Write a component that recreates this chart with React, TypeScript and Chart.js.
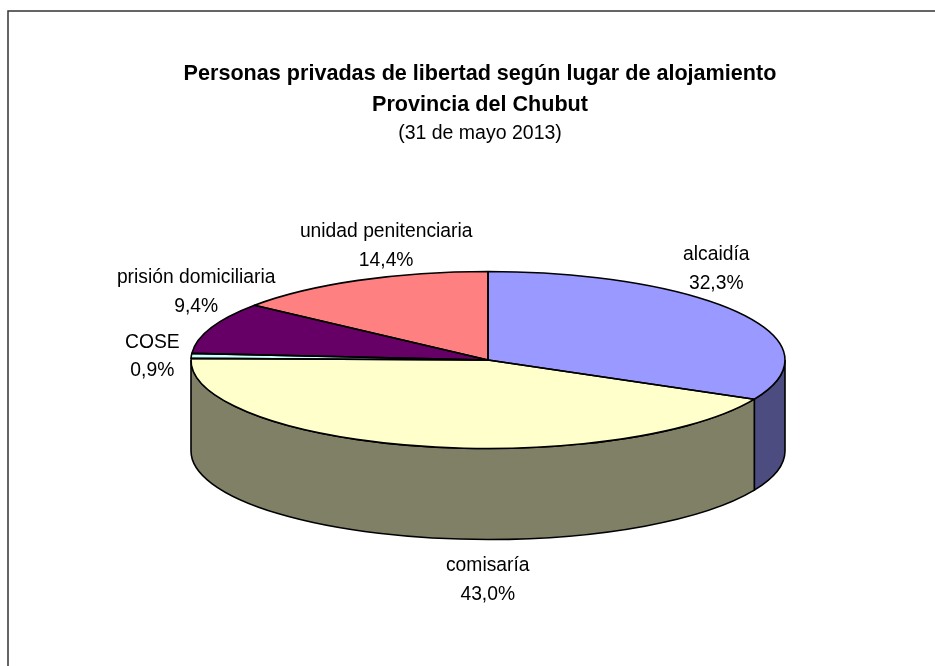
import React, { useEffect, useRef } from "react";
import { Chart, registerables } from "chart.js";

Chart.register(...registerables);

const categories = ["alcaidía", "comisaría", "COSE", "prisión domiciliaria", "unidad penitenciaria"];
const shares = [32.3, 43.0, 0.9, 9.4, 14.4];
const topColors = ["#9999ff", "#ffffcc", "#ccffff", "#660066", "#ff8080"];
const wallColors = ["#4c4c80", "#808066", "#668080", "#330033", "#804040"];
const titleLines = ["Personas privadas de libertad según lugar de alojamiento", "Provincia del Chubut"];
const subtitleLine = "(31 de mayo 2013)";

const PIE = { cx: 488, cy: 360, rx: 297, ry: 88.5, depth: 91 };
const LABEL_FONT = "19.3px 'Liberation Sans', Arial, sans-serif";
const LABEL_LINE = 28.5;
// offset of each label block from the rim point at the middle of its slice
const labelOffsets = [
  [-24, -44],
  [70, 134],
  [-39, 1],
  [-15, -36],
  [28, -34],
];

const pie3d = {
  id: "pie3d",
  beforeDatasetsDraw(chart: any) {
    const { ctx } = chart;
    const arcs = chart.getDatasetMeta(0).data;
    // outer frame: left and top edges only
    ctx.save();
    ctx.strokeStyle = "#333333";
    ctx.lineWidth = 1.5;
    ctx.beginPath();
    ctx.moveTo(8, 666);
    ctx.lineTo(8, 11);
    ctx.lineTo(935, 11);
    ctx.stroke();
    // side walls of the disc: only the front half (canvas angles 0..PI) is visible
    ctx.strokeStyle = "#000";
    ctx.lineWidth = 1.6;
    arcs.forEach((arc: any, i: number) => {
      const a = Math.max(arc.startAngle, 0);
      const b = Math.min(arc.endAngle, Math.PI);
      if (b <= a) return;
      ctx.beginPath();
      ctx.ellipse(PIE.cx, PIE.cy, PIE.rx, PIE.ry, 0, a, b, false);
      ctx.ellipse(PIE.cx, PIE.cy + PIE.depth, PIE.rx, PIE.ry, 0, b, a, true);
      ctx.closePath();
      ctx.fillStyle = wallColors[i];
      ctx.fill();
      ctx.stroke();
    });
    ctx.restore();
  },
  beforeDatasetDraw(chart: any) {
    const { ctx } = chart;
    const arc = chart.getDatasetMeta(0).data[0];
    ctx.save();
    ctx.translate(PIE.cx, PIE.cy);
    ctx.scale(PIE.rx / arc.outerRadius, PIE.ry / arc.outerRadius);
    ctx.translate(-arc.x, -arc.y);
  },
  afterDatasetDraw(chart: any) {
    chart.ctx.restore();
  },
  afterDatasetsDraw(chart: any) {
    const { ctx } = chart;
    const arcs = chart.getDatasetMeta(0).data;
    ctx.save();
    ctx.strokeStyle = "#000";
    ctx.lineWidth = 1.6;
    ctx.lineJoin = "round";
    arcs.forEach((arc: any) => {
      ctx.beginPath();
      ctx.moveTo(PIE.cx, PIE.cy);
      ctx.ellipse(PIE.cx, PIE.cy, PIE.rx, PIE.ry, 0, arc.startAngle, arc.endAngle, false);
      ctx.closePath();
      ctx.stroke();
    });
    // slice labels
    ctx.font = LABEL_FONT;
    ctx.fillStyle = "#000";
    ctx.textAlign = "center";
    ctx.textBaseline = "middle";
    arcs.forEach((arc: any, i: number) => {
      const mid = (arc.startAngle + arc.endAngle) / 2;
      const x = PIE.cx + PIE.rx * Math.cos(mid) + labelOffsets[i][0];
      const y = PIE.cy + PIE.ry * Math.sin(mid) + labelOffsets[i][1];
      ctx.fillText(categories[i], x, y - LABEL_LINE / 2);
      ctx.fillText(shares[i].toFixed(1).replace(".", ",") + "%", x, y + LABEL_LINE / 2);
    });
    ctx.restore();
  },
};

export default function App() {
  const ref = useRef<HTMLCanvasElement>(null);
  useEffect(() => {
    const chart = new Chart(ref.current!, {
      type: "pie",
      data: {
        labels: categories,
        datasets: [
          {
            data: shares,
            backgroundColor: topColors,
            borderWidth: 0,
          },
        ],
      },
      options: {
        animation: false,
        responsive: false,
        devicePixelRatio: 1,
        radius: 297,
        layout: { padding: { top: 58, bottom: 96, left: 25 } },
        plugins: {
          legend: { display: false },
          tooltip: { enabled: false },
          title: {
            display: true,
            text: titleLines,
            color: "#000",
            font: { family: "'Liberation Sans', Arial, sans-serif", size: 21.6, weight: "bold", lineHeight: 1.445 },
            padding: { top: 0, bottom: 0 },
          },
          subtitle: {
            display: true,
            text: subtitleLine,
            color: "#000",
            font: { family: "'Liberation Sans', Arial, sans-serif", size: 19.5, weight: "normal", lineHeight: 1.4 },
            padding: { top: 0, bottom: 0 },
          },
        },
      } as any,
      plugins: [pie3d],
    });
    return () => chart.destroy();
  }, []);
  return (
    <div style={{ position: "fixed", left: 0, top: 0, width: 935, height: 666, background: "#fff" }}>
      <canvas ref={ref} width={935} height={666} style={{ display: "block" }} />
    </div>
  );
}
